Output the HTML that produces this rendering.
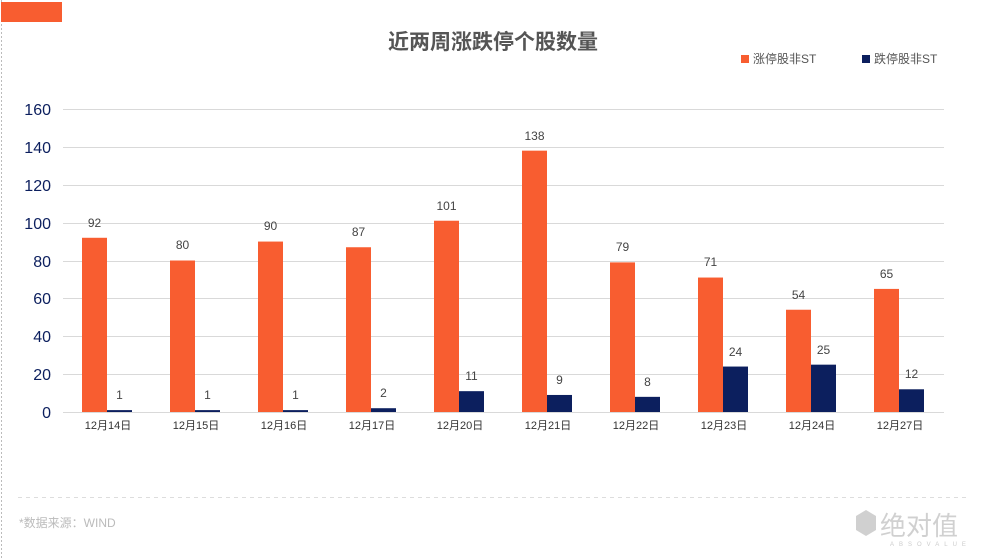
<!DOCTYPE html><html><head><meta charset="utf-8"><style>body{margin:0;background:#fff}svg{display:block;font-family:"Liberation Sans","Noto Sans CJK SC",sans-serif}</style></head><body>
<svg width="987" height="558" viewBox="0 0 987 558" xmlns="http://www.w3.org/2000/svg">
<line x1="1.5" y1="0" x2="1.5" y2="558" stroke="#bbb" stroke-dasharray="2,2"/>
<rect x="1" y="2" width="61" height="20" fill="#f85d30"/>
<text x="493" y="49" text-anchor="middle" font-size="21" font-weight="bold" fill="#555">近两周涨跌停个股数量</text>
<rect x="741" y="55" width="8" height="8" fill="#f85d30"/><text x="753" y="63" font-size="12" fill="#555">涨停股非ST</text>
<rect x="862" y="55" width="8" height="8" fill="#0c1f5e"/><text x="874" y="63" font-size="12" fill="#555">跌停股非ST</text>
<g stroke="#d9d9d9" stroke-width="1">
<line x1="63" x2="944" y1="109.5" y2="109.5"/><line x1="63" x2="944" y1="147.5" y2="147.5"/><line x1="63" x2="944" y1="185.5" y2="185.5"/><line x1="63" x2="944" y1="223.5" y2="223.5"/><line x1="63" x2="944" y1="261.5" y2="261.5"/><line x1="63" x2="944" y1="298.5" y2="298.5"/><line x1="63" x2="944" y1="336.5" y2="336.5"/><line x1="63" x2="944" y1="374.5" y2="374.5"/><line x1="63" x2="944" y1="412.5" y2="412.5"/></g>
<g font-size="16" fill="#0c1f5e" text-anchor="end">
<text x="51" y="115">160</text><text x="51" y="153">140</text><text x="51" y="191">120</text><text x="51" y="229">100</text><text x="51" y="267">80</text><text x="51" y="304">60</text><text x="51" y="342">40</text><text x="51" y="380">20</text><text x="51" y="418">0</text></g>
<g fill="#f85d30">
<rect x="82" y="237.78" width="25" height="174.22"/><rect x="170" y="260.5" width="25" height="151.5"/><rect x="258" y="241.56" width="25" height="170.44"/><rect x="346" y="247.24" width="25" height="164.76"/><rect x="434" y="220.73" width="25" height="191.27"/><rect x="522" y="150.66" width="25" height="261.34"/><rect x="610" y="262.39" width="25" height="149.61"/><rect x="698" y="277.54" width="25" height="134.46"/><rect x="786" y="309.74" width="25" height="102.26"/><rect x="874" y="288.91" width="25" height="123.09"/></g>
<g fill="#0c1f5e">
<rect x="107" y="410.11" width="25" height="1.89"/><rect x="195" y="410.11" width="25" height="1.89"/><rect x="283" y="410.11" width="25" height="1.89"/><rect x="371" y="408.21" width="25" height="3.79"/><rect x="459" y="391.17" width="25" height="20.83"/><rect x="547" y="394.96" width="25" height="17.04"/><rect x="635" y="396.85" width="25" height="15.15"/><rect x="723" y="366.55" width="25" height="45.45"/><rect x="811" y="364.66" width="25" height="47.34"/><rect x="899" y="389.28" width="25" height="22.72"/></g>
<g font-size="12" fill="#444" text-anchor="middle">
<text x="94.5" y="227">92</text><text x="182.5" y="249">80</text><text x="270.5" y="230">90</text><text x="358.5" y="236">87</text><text x="446.5" y="210">101</text><text x="534.5" y="140">138</text><text x="622.5" y="251">79</text><text x="710.5" y="266">71</text><text x="798.5" y="299">54</text><text x="886.5" y="278">65</text>
<text x="119.5" y="399">1</text><text x="207.5" y="399">1</text><text x="295.5" y="399">1</text><text x="383.5" y="397">2</text><text x="471.5" y="380">11</text><text x="559.5" y="384">9</text><text x="647.5" y="386">8</text><text x="735.5" y="356">24</text><text x="823.5" y="354">25</text><text x="911.5" y="378">12</text></g>
<g font-size="11" fill="#333" text-anchor="middle">
<text x="108" y="429">12月14日</text><text x="196" y="429">12月15日</text><text x="284" y="429">12月16日</text><text x="372" y="429">12月17日</text><text x="460" y="429">12月20日</text><text x="548" y="429">12月21日</text><text x="636" y="429">12月22日</text><text x="724" y="429">12月23日</text><text x="812" y="429">12月24日</text><text x="900" y="429">12月27日</text></g>
<line x1="18" y1="497.5" x2="968" y2="497.5" stroke="#ddd" stroke-dasharray="4,4"/>
<text x="19" y="527" font-size="12" fill="#bbb">*数据来源：WIND</text>
<polygon points="856,516 866,510 876,516 876,530 866,536 856,530" fill="#d0d0d0"/>
<text x="880" y="535" font-size="26" fill="#d0d0d0">绝对值</text>
<text x="890" y="546" font-size="6" fill="#ccc" letter-spacing="5">ABSOVALUE</text>
</svg></body></html>
